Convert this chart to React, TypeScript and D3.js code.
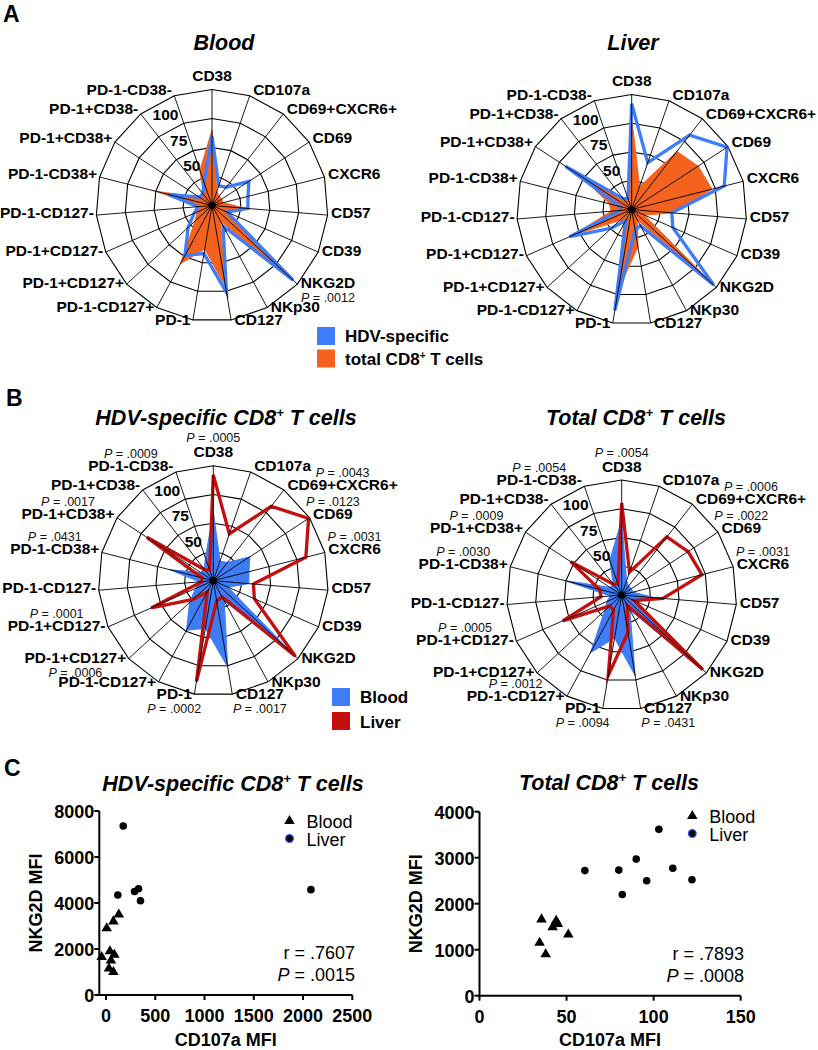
import React from "react";
import * as d3 from "d3";

const FONT = "'Liberation Sans', Arial, Helvetica, sans-serif";
const BLUE = "#3F7CF7";
const ORANGE = "#F4631E";
const RED = "#C40F0F";

// ---------- Radar data ----------
const markers = [
  "CD38", "CD107a", "CD69+CXCR6+", "CD69", "CXCR6", "CD57", "CD39", "NKG2D", "NKp30",
  "CD127", "PD-1", "PD-1-CD127+", "PD-1+CD127+", "PD-1+CD127-", "PD-1-CD127-",
  "PD-1-CD38+", "PD-1+CD38+", "PD-1+CD38-", "PD-1-CD38-",
];
const hdvBlood = [60, 18, 20, 38, 32, 31, 14, 95, 20, 76, 42, 49, 28, 17, 12, 39, 13, 13, 21];
const hdvLiver = [92, 43, 82, 99, 83, 35, 39, 97, 16, 18, 89, 11, 24, 59, 10, 10, 69, 12, 10];
const totalBlood = [65, 13, 10, 10, 10, 29, 12, 93, 15, 71, 38, 57, 20, 14, 10, 51, 12, 12, 32];
const totalLiver = [80, 21, 64, 69, 72, 36, 12, 96, 10, 33, 71, 15, 14, 56, 18, 20, 53, 12, 10];
const ringValues = [25, 50, 75, 100];
const ringLabelValues = [50, 75, 100];

// P-values: marker index, value, above/below label
const pBloodA = [{ i: 7, p: ".0012", below: true }];
const pHdvB = [
  { i: 0, p: ".0005", below: false },
  { i: 18, p: ".0009", below: false },
  { i: 2, p: ".0043", below: false },
  { i: 3, p: ".0123", below: false },
  { i: 4, p: ".0031", below: false },
  { i: 16, p: ".0017", below: false },
  { i: 15, p: ".0431", below: false },
  { i: 13, p: ".0001", below: false },
  { i: 12, p: ".0006", below: true },
  { i: 10, p: ".0002", below: true },
  { i: 9, p: ".0017", below: true },
];
const pTotalB = [
  { i: 0, p: ".0054", below: false },
  { i: 18, p: ".0054", below: false },
  { i: 2, p: ".0006", below: false },
  { i: 3, p: ".0022", below: false },
  { i: 4, p: ".0031", below: false },
  { i: 16, p: ".0009", below: false },
  { i: 15, p: ".0030", below: false },
  { i: 13, p: ".0005", below: false },
  { i: 11, p: ".0012", below: false },
  { i: 10, p: ".0094", below: true },
  { i: 9, p: ".0431", below: true },
];

// ---------- Scatter data ----------
const hdvBloodX = [7, 75, 130, -44, 40, 85, 50, 30, 75];
const hdvBloodY = [2900, 3200, 3500, 1650, 1900, 1750, 1500, 1150, 1000];
const hdvLiverX = [175, 120, 290, 330, 350, 2080];
const hdvLiverY = [7350, 4350, 4500, 4620, 4100, 4580];
const totBloodX = [35.6, 44, 45, 42, 51, 34.5, 38];
const totBloodY = [1660, 1630, 1560, 1490, 1330, 1150, 900];
const totLiverX = [60.5, 80, 90, 82, 96, 103, 111, 122];
const totLiverY = [2720, 2730, 2970, 2200, 2500, 3620, 2770, 2520];
const hdvXTicks = [0, 500, 1000, 1500, 2000, 2500];
const hdvYTicks = [0, 2000, 4000, 6000, 8000];
const totXTicks = [0, 50, 100, 150];
const totYTicks = [0, 1000, 2000, 3000, 4000];

let _ctx: CanvasRenderingContext2D | null = null;
function textWidth(t: string, font: string) {
  if (!_ctx) _ctx = document.createElement("canvas").getContext("2d");
  if (!_ctx) return t.length * 8;
  _ctx.font = font;
  return _ctx.measureText(t).width;
}

type Series = { values: number[]; color: string; fill: boolean };
type PVal = { i: number; p: string; below: boolean };

function PText({ x, y, p }: { x: number; y: number; p: string }) {
  return (
    <text x={x} y={y} textAnchor="middle" fontSize={12.5} fill="#111">
      <tspan fontStyle="italic">P</tspan> = {p}
    </text>
  );
}

function Radar({ cx, cy, R, series, pvals }: { cx: number; cy: number; R: number; series: Series[]; pvals: PVal[] }) {
  const n = markers.length;
  const angle = d3.scaleLinear().domain([0, n]).range([0, 2 * Math.PI]);
  const r = d3.scaleLinear().domain([0, 100]).range([0, R]);
  const line = d3
    .lineRadial<number>()
    .angle((_, i) => angle(i))
    .radius((d) => r(d))
    .curve(d3.curveLinearClosed);
  const labelFs = 15.5;
  const labelFont = `bold ${labelFs}px ${FONT}`;
  const labels = markers.map((m, i) => {
    const a = angle(i);
    const s = Math.sin(a), c = Math.cos(a);
    const vx = R * s, vy = -R * c;
    let x = vx, y: number, anchor = "middle";
    if (i === 0) {
      y = vy - 8.5;
    } else {
      y = c > 0 ? vy + 3 - 4 * c : vy + 3 - 2 * c;
      if (i <= 9) { anchor = "start"; x = vx + 3.5; } else { anchor = "end"; x = vx - 2.5; }
    }
    const w = textWidth(m, labelFont);
    const center = anchor === "middle" ? x : anchor === "start" ? x + w / 2 : x - w / 2;
    return { m, x, y, anchor, center };
  });
  const ringA = (-27 * Math.PI) / 180;
  return (
    <g transform={`translate(${cx},${cy})`}>
      {ringValues.map((v) => (
        <path key={v} d={line(markers.map(() => v)) || ""} fill="none" stroke="#000" strokeWidth={1.1} />
      ))}
      {series.map((s, k) =>
        s.fill ? (
          <path key={k} d={line(s.values) || ""} fill={s.color} stroke={s.color} strokeWidth={1} strokeLinejoin="miter" />
        ) : (
          <path key={k} d={line(s.values) || ""} fill="none" stroke={s.color} strokeWidth={3.3} strokeLinejoin="miter" strokeMiterlimit={6} />
        )
      )}
      {markers.map((m, i) => {
        const a = angle(i);
        return (
          <line key={m} x1={0} y1={0} x2={R * Math.sin(a)} y2={-R * Math.cos(a)} stroke="#000" strokeWidth={0.9} />
        );
      })}
      <circle r={3.6} fill="#000" />
      {ringLabelValues.map((v) => {
        const d = r(v) - 13.5;
        return (
          <text key={v} x={d * Math.sin(ringA)} y={-d * Math.cos(ringA)} textAnchor="middle" dominantBaseline="central" fontWeight="bold" fontSize={15.5}>
            {v}
          </text>
        );
      })}
      {labels.map((l) => (
        <text key={l.m} x={l.x} y={l.y} textAnchor={l.anchor} fontWeight="bold" fontSize={labelFs}>
          {l.m}
        </text>
      ))}
      {pvals.map((pv) => {
        const l = labels[pv.i];
        const y = pv.below ? l.y + 14 : l.y - (pv.i === 0 ? 15 : 13);
        return <PText key={pv.i} x={l.center} y={y} p={pv.p} />;
      })}
    </g>
  );
}

function Title({ x, y, pre, sup, post }: { x: number; y: number; pre: string; sup?: string; post?: string }) {
  return (
    <text x={x} y={y} textAnchor="middle" fontWeight="bold" fontStyle="italic" fontSize={21.5}>
      {pre}
      {sup ? (
        <tspan dy={-8} fontSize={13}>
          {sup}
        </tspan>
      ) : null}
      {post ? <tspan dy={sup ? 8 : 0}>{post}</tspan> : null}
    </text>
  );
}

function Scatter(props: {
  xDomain: [number, number]; xRange: [number, number]; yDomain: [number, number]; yRange: [number, number];
  xTicks: number[]; yTicks: number[]; bx: number[]; by: number[]; lx: number[]; ly: number[];
  legendX: number; legendY: number; statX: number; statY: number; r: string; p: string; yLabelX: number;
}) {
  const x = d3.scaleLinear().domain(props.xDomain).range(props.xRange);
  const y = d3.scaleLinear().domain(props.yDomain).range(props.yRange);
  const tri = d3.symbol().type(d3.symbolTriangle).size(48)() || "";
  const x0 = props.xRange[0];
  const y0 = props.yRange[0];
  return (
    <g>
      <line x1={x0} x2={x0} y1={props.yRange[1]} y2={y0 + 1} stroke="#000" strokeWidth={2} />
      <line x1={x0 - 1} x2={props.xRange[1]} y1={y0} y2={y0} stroke="#000" strokeWidth={2} />
      {props.yTicks.map((t) => (
        <g key={"y" + t}>
          <line x1={x0 - 5} x2={x0} y1={y(t)} y2={y(t)} stroke="#000" strokeWidth={2} />
          <text x={x0 - 5} y={y(t) + 1} textAnchor="end" dominantBaseline="central" fontWeight="bold" fontSize={18}>
            {t}
          </text>
        </g>
      ))}
      {props.xTicks.map((t) => (
        <g key={"x" + t}>
          <line x1={x(t)} x2={x(t)} y1={y0} y2={y0 + 5} stroke="#000" strokeWidth={2} />
          <text x={x(t)} y={y0 + 27} textAnchor="middle" fontWeight="bold" fontSize={18}>
            {t}
          </text>
        </g>
      ))}
      <text x={(props.xRange[0] + props.xRange[1]) / 2} y={1046} textAnchor="middle" fontWeight="bold" fontSize={18}>
        CD107a MFI
      </text>
      <text transform={`translate(${props.yLabelX},${(props.yRange[0] + props.yRange[1]) / 2}) rotate(-90)`} textAnchor="middle" fontWeight="bold" fontSize={18}>
        NKG2D MFI
      </text>
      {props.bx.map((v, i) => (
        <path key={"b" + i} d={tri} transform={`translate(${x(v)},${y(props.by[i])})`} fill="#000" />
      ))}
      {props.lx.map((v, i) => (
        <circle key={"l" + i} cx={x(v)} cy={y(props.ly[i])} r={3.8} fill="#000" />
      ))}
      <path d={tri} transform={`translate(${props.legendX},${props.legendY})`} fill="#000" />
      <text x={props.legendX + 17} y={props.legendY + 7} fontSize={18}>Blood</text>
      <circle cx={props.legendX} cy={props.legendY + 17.5} r={3.8} fill="#000" stroke="#2456e8" strokeWidth={1.3} />
      <text x={props.legendX + 17} y={props.legendY + 25} fontSize={18}>Liver</text>
      <text x={props.statX} y={props.statY} textAnchor="end" fontSize={18}>r = {props.r}</text>
      <text x={props.statX} y={props.statY + 21.5} textAnchor="end" fontSize={18}>
        <tspan fontStyle="italic">P</tspan> = {props.p}
      </text>
    </g>
  );
}

export default function App() {
  return (
    <svg
      width={818}
      height={1050}
      viewBox="0 0 818 1050"
      style={{ position: "absolute", left: 0, top: 0, background: "#fff", fontFamily: FONT }}
      fontFamily={FONT}
    >
      <rect width={818} height={1050} fill="#fff" />
      {/* Panel letters */}
      <text x={3} y={22} fontWeight="bold" fontSize={23}>A</text>
      <text x={6} y={406} fontWeight="bold" fontSize={23}>B</text>
      <text x={4} y={776} fontWeight="bold" fontSize={23}>C</text>

      {/* A */}
      <Title x={224} y={50} pre="Blood" />
      <Title x={633} y={50} pre="Liver" />
      <Radar cx={212} cy={205.5} R={116} series={[
        { values: totalBlood, color: ORANGE, fill: true },
        { values: hdvBlood, color: BLUE, fill: false },
      ]} pvals={pBloodA} />
      <Radar cx={631.7} cy={209.5} R={115} series={[
        { values: totalLiver, color: ORANGE, fill: true },
        { values: hdvLiver, color: BLUE, fill: false },
      ]} pvals={[]} />
      <rect x={317} y={327} width={18} height={18} fill={BLUE} />
      <rect x={317} y={349.5} width={18} height={18} fill={ORANGE} />
      <text x={345} y={342} fontWeight="bold" fontSize={17}>HDV-specific</text>
      <text x={345} y={364.5} fontWeight="bold" fontSize={17}>
        total CD8<tspan dy={-6} fontSize={10}>+</tspan>
        <tspan dy={6}> T cells</tspan>
      </text>

      {/* B */}
      <Title x={226} y={425} pre="HDV-specific CD8" sup="+" post=" T cells" />
      <Title x={636} y={425} pre="Total CD8" sup="+" post=" T cells" />
      <Radar cx={213.3} cy={580.7} R={115} series={[
        { values: hdvBlood, color: BLUE, fill: true },
        { values: hdvLiver, color: RED, fill: false },
      ]} pvals={pHdvB} />
      <Radar cx={621.7} cy={595} R={115} series={[
        { values: totalBlood, color: BLUE, fill: true },
        { values: totalLiver, color: RED, fill: false },
      ]} pvals={pTotalB} />
      <rect x={332} y={688} width={18} height={18} fill={BLUE} />
      <rect x={332} y={712} width={18} height={18} fill={RED} />
      <text x={360} y={703} fontWeight="bold" fontSize={17}>Blood</text>
      <text x={360} y={728} fontWeight="bold" fontSize={17}>Liver</text>

      {/* C */}
      <Title x={233} y={791} pre="HDV-specific CD8" sup="+" post=" T cells" />
      <Title x={609} y={790} pre="Total CD8" sup="+" post=" T cells" />
      <Scatter
        xDomain={[-68, 2500]} xRange={[99.3, 352.3]} yDomain={[0, 8000]} yRange={[995, 811]}
        xTicks={hdvXTicks} yTicks={hdvYTicks} bx={hdvBloodX} by={hdvBloodY} lx={hdvLiverX} ly={hdvLiverY}
        legendX={289.5} legendY={821} statX={355} statY={959} r=".7607" p=".0015" yLabelX={41.5}
      />
      <Scatter
        xDomain={[0, 150]} xRange={[479.5, 740.7]} yDomain={[0, 4000]} yRange={[995.7, 811.7]}
        xTicks={totXTicks} yTicks={totYTicks} bx={totBloodX} by={totBloodY} lx={totLiverX} ly={totLiverY}
        legendX={692.3} legendY={816} statX={744} statY={960} r=".7893" p=".0008" yLabelX={422}
      />
    </svg>
  );
}
